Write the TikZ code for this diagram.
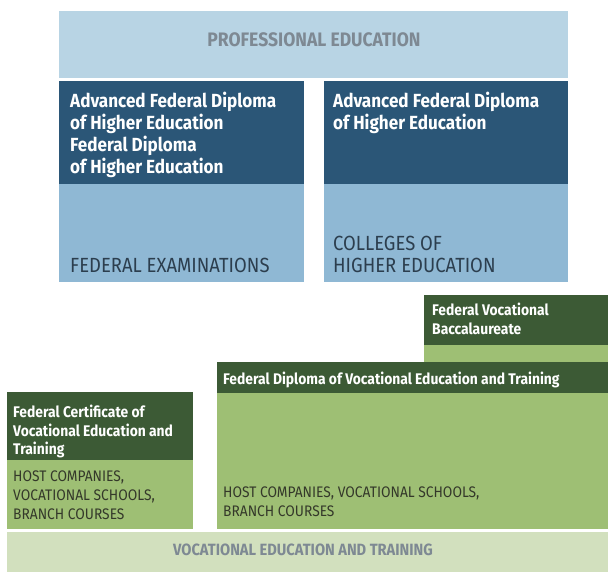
\documentclass[tikz,border=0pt]{standalone}
\usepackage{fontspec}
\setmainfont{Fira Sans}[FakeStretch=0.9]
\usetikzlibrary{positioning}
\definecolor{profbg}{HTML}{B8D4E4}
\definecolor{dkblue}{HTML}{2B5677}
\definecolor{ltblue}{HTML}{8FB8D4}
\definecolor{dkgreen}{HTML}{3C5A35}
\definecolor{ltgreen}{HTML}{9EBF74}
\definecolor{vetbg}{HTML}{D2E0BE}
\definecolor{bandtxt}{HTML}{7E8993}
\definecolor{bluetxt}{HTML}{2C3E4E}
\definecolor{greentxt}{HTML}{34382A}
\begin{document}
\begin{tikzpicture}[x=1pt,y=-1pt,
  box/.style={anchor=north west,inner sep=0,outer sep=0,minimum width=#1},
  bluehd/.style={inner sep=0,align=left,text=white,font=\fontsize{19}{22}\selectfont\bfseries},
  bluebd/.style={inner sep=0,align=left,text=bluetxt,font=\fontsize{20.5}{22}\selectfont},
  greenhd/.style={inner sep=0,align=left,text=white,font=\fontsize{15.4}{18.5}\selectfont\bfseries},
  greenbd/.style={inner sep=0,align=left,text=greentxt,font=\fontsize{15.3}{19}\selectfont},
  bandtitle/.style={text=bandtxt,font=\fontsize{19.5}{22}\selectfont\bfseries}]
\useasboundingbox (0,0) rectangle (608,572);
% professional education
\node[box=509pt,minimum height=67pt,fill=profbg] (prof) at (59,11) {};
\node[bandtitle] (proftxt) at (314,40) {PROFESSIONAL EDUCATION};
\node[box=245pt,minimum height=103pt,fill=dkblue] (exahd) at (59,81) {};
\node[box=245pt,minimum height=98pt,fill=ltblue] (exabd) at (59,184) {};
\node[box=244pt,minimum height=103pt,fill=dkblue] (colhd) at (324,81) {};
\node[box=244pt,minimum height=98pt,fill=ltblue] (colbd) at (324,184) {};
\node[bluehd,below right=11pt and 11pt of exahd.north west] (exahdtxt)
  {Advanced Federal Diploma\\of Higher Education\\Federal Diploma\\of Higher Education};
\node[bluehd,below right=11pt and 9pt of colhd.north west] (colhdtxt)
  {Advanced Federal Diploma\\of Higher Education};
\node[bluebd,above right=9pt and 11pt of exabd.south west] (exabdtxt) {FEDERAL EXAMINATIONS};
\node[bluebd,above right=9pt and 9pt of colbd.south west] (colbdtxt) {COLLEGES OF\\HIGHER EDUCATION};
% vocational education and training
\node[box=184pt,minimum height=50pt,fill=dkgreen] (bachd) at (424,295) {};
\node[box=184pt,minimum height=17pt,fill=ltgreen] (bacbd) at (424,345) {};
\node[box=391pt,minimum height=31pt,fill=dkgreen] (diphd) at (217,362) {};
\node[box=391pt,minimum height=136pt,fill=ltgreen] (dipbd) at (217,393) {};
\node[box=186pt,minimum height=68pt,fill=dkgreen] (cerhd) at (7,392) {};
\node[box=186pt,minimum height=69pt,fill=ltgreen] (cerbd) at (7,460) {};
\node[box=601pt,minimum height=40pt,fill=vetbg] (vet) at (7,532) {};
\node[greenhd,below right=8pt and 8pt of bachd.north west] (bachdtxt) {Federal Vocational\\Baccalaureate};
\node[greenhd,below right=9.5pt and 6pt of diphd.north west] (diphdtxt)
  {Federal Diploma of Vocational Education and Training};
\node[greenhd,below right=13pt and 6pt of cerhd.north west] (cerhdtxt)
  {Federal Certificate of\\Vocational Education and\\Training};
\node[greenbd,above right=9pt and 6pt of cerbd.south west] (cerbdtxt)
  {HOST COMPANIES,\\VOCATIONAL SCHOOLS,\\BRANCH COURSES};
\node[greenbd,above right=12pt and 6pt of dipbd.south west] (dipbdtxt)
  {HOST COMPANIES, VOCATIONAL SCHOOLS,\\BRANCH COURSES};
\node[bandtitle,font=\fontsize{16.3}{20}\selectfont\bfseries] (vettxt) at (303,550)
  {VOCATIONAL EDUCATION AND TRAINING};
\end{tikzpicture}
\end{document}
